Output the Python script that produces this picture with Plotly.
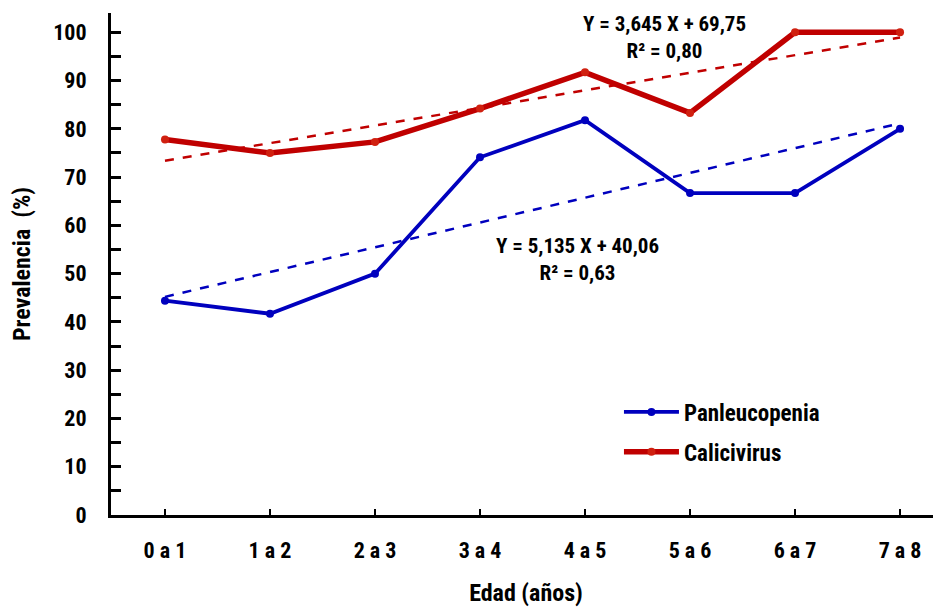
import numpy as np
import plotly.graph_objects as go

categorias = ["0 a 1", "1 a 2", "2 a 3", "3 a 4", "4 a 5", "5 a 6", "6 a 7", "7 a 8"]
panleucopenia = [44.4, 41.7, 50.0, 74.1, 81.8, 66.7, 66.7, 80.0]
calicivirus = [77.8, 75.0, 77.3, 84.2, 91.7, 83.3, 100.0, 100.0]

# regression coefficients (slope, intercept) as printed on the chart, X = 1..8
tend_pan = [5.135, 40.06]
tend_cal = [3.645, 69.75]
ec_pan = ["Y = 5,135 X + 40,06", "R² = 0,63"]
ec_cal = ["Y = 3,645 X + 69,75", "R² = 0,80"]

AZUL = "#0000BE"
ROJO = "#C00000"
FONT = "Liberation Sans Narrow, Arial Narrow, Roboto Condensed, DejaVu Sans Condensed, Liberation Sans"

xi = np.arange(len(categorias))
X = xi + 1

fig = go.Figure()

fig.add_trace(go.Scatter(
    x=xi, y=tend_pan[0] * X + tend_pan[1], mode="lines",
    line=dict(color=AZUL, width=2.5, dash="dash"), showlegend=False, hoverinfo="skip"))
fig.add_trace(go.Scatter(
    x=xi, y=tend_cal[0] * X + tend_cal[1], mode="lines",
    line=dict(color=ROJO, width=2.5, dash="dash"), showlegend=False, hoverinfo="skip"))

fig.add_trace(go.Scatter(
    x=xi, y=panleucopenia, mode="lines+markers", name="Panleucopenia",
    legendgroup="a",
    line=dict(color=AZUL, width=3.8), marker=dict(color=AZUL, size=8, symbol="circle")))
fig.add_trace(go.Scatter(
    x=xi, y=calicivirus, mode="lines+markers", name="Calicivirus",
    legendgroup="b",
    line=dict(color=ROJO, width=5.5), marker=dict(color="#D02010", size=8, symbol="circle")))

ann_font = dict(family=FONT, size=21, color="black", weight="bold")
fig.add_annotation(x=4.76, y=99.0, xref="x", yref="y", text="<br>".join(ec_cal),
                   showarrow=False, font=ann_font, align="center")
fig.add_annotation(x=3.93, y=53.0, xref="x", yref="y", text="<br>".join(ec_pan),
                   showarrow=False, font=ann_font, align="center")

tick_font = dict(family=FONT, size=22, color="black", weight="bold")
title_font = dict(family=FONT, size=24, color="black", weight="bold")

fig.update_layout(
    width=941, height=609,
    margin=dict(l=103, r=8, t=5, b=102),
    paper_bgcolor="white", plot_bgcolor="white",
    font=dict(family=FONT, color="black"),
    legend=dict(x=0.612, y=0.248, xanchor="left", yanchor="top",
                font=dict(family=FONT, size=23, color="black", weight="bold"),
                bgcolor="rgba(0,0,0,0)", tracegroupgap=7, itemwidth=55),
    xaxis=dict(
        range=[-0.514, 7.39], tickvals=list(xi), ticktext=categorias,
        showgrid=False, zeroline=False,
        showline=True, linecolor="black", linewidth=3,
        ticks="inside", ticklen=6, tickwidth=2, tickcolor="black",
        tickfont=tick_font, ticklabelstandoff=14,
        title=dict(text="Edad (años)", font=title_font, standoff=22),
    ),
    yaxis=dict(
        range=[0, 104], tickvals=list(range(0, 101, 10)),
        showgrid=False, zeroline=False,
        showline=True, linecolor="black", linewidth=3,
        ticks="inside", ticklen=10, tickwidth=2.5, tickcolor="black",
        minor=dict(dtick=5, ticks="inside", ticklen=10, tickwidth=2.5, tickcolor="black", showgrid=False),
        tickfont=tick_font, ticklabelstandoff=17,
        title=dict(text="Prevalencia  (%)", font=title_font, standoff=16),
    ),
)

fig.write_html("out.html")
